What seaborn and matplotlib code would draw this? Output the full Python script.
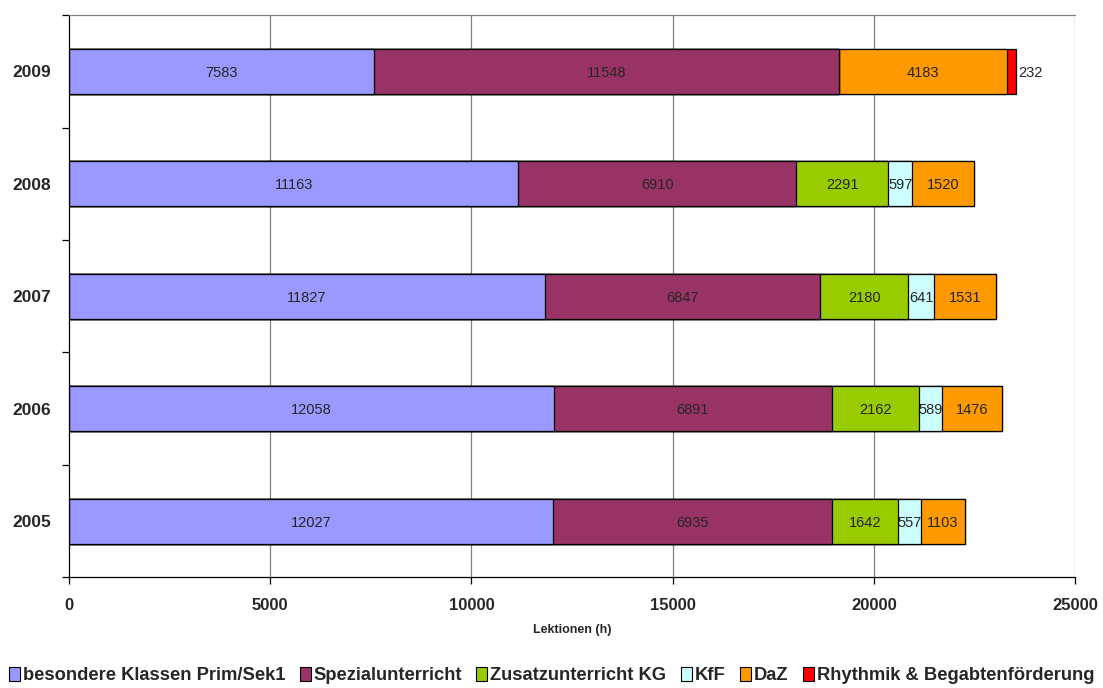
import numpy as np
import pandas as pd
import matplotlib
matplotlib.use("Agg")
import matplotlib.pyplot as plt
import seaborn as sns
from matplotlib.patches import Patch

# Daten
jahre = ['2009', '2008', '2007', '2006', '2005']
kategorien = ['besondere Klassen Prim/Sek1', 'Spezialunterricht', 'Zusatzunterricht KG',
              'KfF', 'DaZ', 'Rhythmik & Begabtenförderung']
besondere = [7583, 11163, 11827, 12058, 12027]
spezial = [11548, 6910, 6847, 6891, 6935]
zusatz_kg = [0, 2291, 2180, 2162, 1642]
kff = [0, 597, 641, 589, 557]
daz = [4183, 1520, 1531, 1476, 1103]
rhythmik = [232, 0, 0, 0, 0]
farben = ['#9999FF', '#993366', '#99CC00', '#CCFFFF', '#FF9900', '#FF0000']
x_ticks = [0, 5000, 10000, 15000, 20000, 25000]

sns.set_style("white")
plt.rcParams['font.family'] = ['Liberation Sans', 'DejaVu Sans']

werte = np.array([besondere, spezial, zusatz_kg, kff, daz, rhythmik])
kumuliert = werte.cumsum(axis=0)

fig = plt.figure(figsize=(11.03, 6.88), dpi=100)
ax = fig.add_axes([0.0626, 0.161, 0.912, 0.817])
ax.set_axisbelow(True)
for xt in x_ticks[1:]:
    ax.axvline(xt, color='#808080', lw=0.9, zorder=0)

# gestapelt: von hinten nach vorne zeichnen
for i in range(len(kategorien) - 1, -1, -1):
    df = pd.DataFrame({'Jahr': jahre, 'Summe': kumuliert[i]})
    sns.barplot(data=df, x='Summe', y='Jahr', order=jahre, color=farben[i],
                saturation=1, width=0.4, edgecolor='black', linewidth=0.9, ax=ax)

# Beschriftungen
for i in range(len(kategorien)):
    for j, jahr in enumerate(jahre):
        v = werte[i, j]
        if v == 0:
            continue
        if i == len(kategorien) - 1:
            ax.text(kumuliert[i, j] + 50, j, str(v), ha='left', va='center_baseline', fontsize=10.5)
        else:
            ax.text(kumuliert[i, j] - v / 2, j, str(v), ha='center', va='center_baseline', fontsize=10.5)

ax.set_xlim(0, 25000)
ax.set_ylim(4.5, -0.5)
ax.set_xticks(x_ticks)
ax.set_xticklabels([str(t) for t in x_ticks], fontweight='bold', fontsize=12)
ax.set_yticks(range(len(jahre)))
ax.set_yticklabels(jahre, fontweight='bold', fontsize=12.5)
ax.set_yticks(np.arange(-0.5, 5, 1), minor=True)
ax.tick_params(axis='y', which='major', length=0, pad=13)
ax.tick_params(axis='y', which='minor', length=5, direction='out', width=0.9, color='black', left=True)
ax.tick_params(axis='x', length=5, direction='out', width=0.9, color='black', bottom=True, pad=10)
ax.set_xlabel('Lektionen (h)', fontweight='bold', fontsize=9, labelpad=8)
ax.set_ylabel('')

for s in ['left', 'bottom']:
    ax.spines[s].set_color('black')
    ax.spines[s].set_linewidth(0.9)
ax.spines['right'].set_visible(False)
ax.spines['top'].set_color('#808080')
ax.spines['top'].set_linewidth(0.9)

handles = [Patch(facecolor=c, edgecolor='black', linewidth=0.8) for c in farben]
fig.legend(handles, kategorien, loc='center', bbox_to_anchor=(0.5, 0.018), ncol=6,
           frameon=False, handlelength=0.6, handleheight=0.85, handletextpad=0.15,
           columnspacing=0.8, prop={'weight': 'bold', 'size': 13.2})

fig.savefig('out.png', dpi=100)
